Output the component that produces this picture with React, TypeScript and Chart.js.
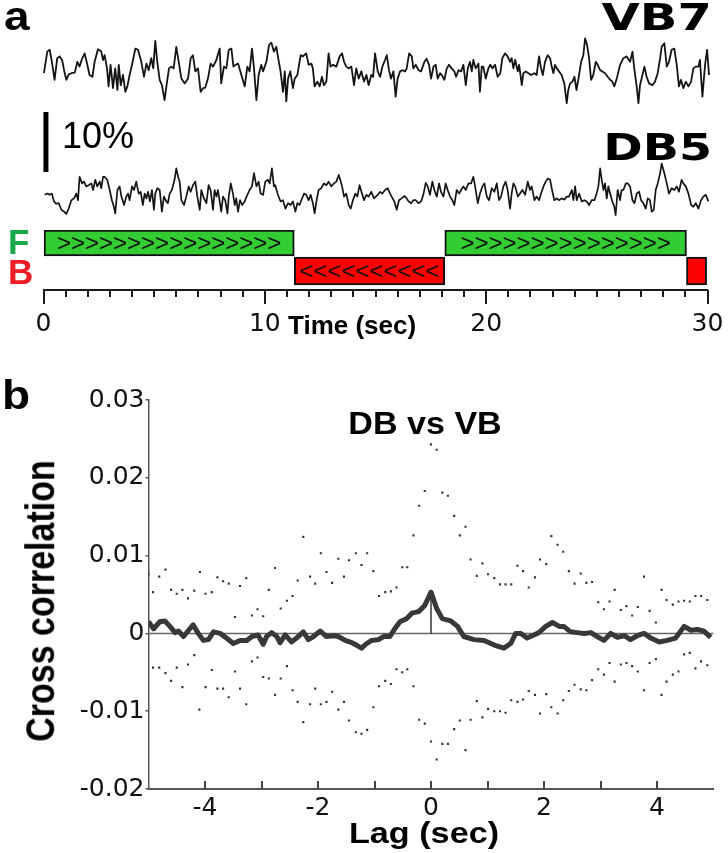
import React, { useEffect, useRef } from "react";
import { Chart, registerables } from "chart.js";
Chart.register(...registerables);

// ---------- Panel a: calcium traces (time in s, dF/F in %) ----------
const VB7_T = [0.02,0.17,0.28,0.38,0.5,0.62,0.73,0.84,0.93,1.03,1.14,1.26,1.41,1.53,1.63,1.74,1.86,1.98,2.08,2.21,2.31,2.46,2.61,2.69,2.76,2.87,2.94,3.03,3.14,3.24,3.34,3.4,3.49,3.59,3.7,3.79,3.89,4.0,4.15,4.27,4.42,4.54,4.65,4.75,4.87,4.96,5.05,5.14,5.25,5.35,5.47,5.56,5.67,5.77,5.88,6.0,6.11,6.23,6.38,6.53,6.65,6.75,6.86,6.98,7.1,7.21,7.31,7.43,7.55,7.66,7.81,7.96,8.03,8.15,8.26,8.37,8.49,8.58,8.68,8.79,8.94,9.09,9.21,9.31,9.42,9.51,9.62,9.72,9.84,9.92,10.07,10.19,10.29,10.41,10.52,10.59,10.71,10.82,10.9,10.97,11.05,11.15,11.27,11.35,11.47,11.62,11.72,11.87,11.98,12.1,12.17,12.25,12.37,12.48,12.58,12.67,12.78,12.88,12.97,13.08,13.23,13.38,13.49,13.58,13.68,13.79,13.91,14.03,14.13,14.24,14.36,14.48,14.59,14.69,14.81,14.89,14.98,15.1,15.21,15.31,15.43,15.51,15.61,15.7,15.81,15.91,16.0,16.11,16.21,16.34,16.41,16.52,16.64,16.71,16.82,16.94,17.06,17.21,17.31,17.42,17.51,17.62,17.72,17.81,17.92,17.99,18.11,18.22,18.32,18.44,18.56,18.64,18.75,18.87,18.97,19.08,19.17,19.27,19.35,19.42,19.53,19.65,19.72,19.8,19.87,19.98,20.1,20.19,20.28,20.4,20.52,20.64,20.73,20.85,20.97,21.08,21.15,21.23,21.31,21.43,21.49,21.61,21.68,21.79,21.91,22.03,22.18,22.28,22.39,22.48,22.56,22.66,22.78,22.89,22.96,23.04,23.11,23.19,23.29,23.41,23.53,23.64,23.71,23.79,23.9,23.99,24.08,24.17,24.29,24.39,24.47,24.56,24.65,24.74,24.84,24.95,25.04,25.15,25.25,25.37,25.49,25.6,25.7,25.79,25.9,26.05,26.2,26.35,26.5,26.61,26.7,26.8,26.88,26.95,27.06,27.15,27.25,27.36,27.51,27.63,27.75,27.86,27.93,28.05,28.16,28.26,28.38,28.5,28.61,28.71,28.8,28.91,29.02,29.14,29.26,29.36,29.47,29.59,29.66,29.77,29.89,29.98,30.07,30.16];
const VB7_V = [0.3,3.9,4.2,2.2,-0.8,2.8,3.1,2.5,0.8,-0.8,0.1,0.3,0.4,2.2,1.4,2.7,3.6,1.7,0,-0.3,2.2,4.3,3.9,2.5,3.3,1.1,-1.9,1.7,-2.2,1.1,-2.5,1.7,-1.7,0,-2.8,-1.9,0,1.7,4.4,4.2,2.2,-0.3,1.9,0.8,2.8,1.1,5.7,2.2,-0.8,-1.7,-4.2,-1.7,1.1,1.4,1.1,4.7,2.2,-0.6,-1.4,-0.6,2.8,3.3,0.6,1.1,-2.8,-2.2,-2.1,-0.6,1.9,1.4,2.5,4.4,-1.4,1.4,1.1,4.2,4.4,1.4,1.7,1.9,0,-1.9,1.4,0.6,4.4,1.1,-4.2,0,1.7,0.6,2.2,5.0,5.4,3.9,4.7,3.1,0.6,-2.8,0.6,-4.4,-0.6,0.6,-2.2,-0.6,0,3.3,3.1,3.6,1.7,1.9,1.1,-1.9,-1.1,-1.9,-0.3,-1.7,-1.1,3.6,1.4,1.7,1.4,3.1,3.6,2.2,1.4,1.1,1.4,-1.7,1.1,-0.6,0.6,-1.1,0,-1.7,0,-0.3,3.6,0.6,-0.3,1.4,2.5,3.3,0.8,-0.6,0.6,-3.6,-0.6,0.6,0.8,0.6,1.1,3.6,3.1,1.1,1.7,0.8,0.6,2.2,2.7,1.7,-0.6,1.4,1.7,-0.6,0.3,0,-0.8,1.1,1.7,1.1,0.6,-0.3,0.8,0.6,1.7,-1.7,1.1,2.2,0.6,2.5,1.1,1.9,-2.8,1.4,1.4,-0.6,1.1,1.7,1.1,1.7,-0.3,0.3,2.8,3.6,3.1,2.2,2.8,1.1,2.5,0.6,1.7,-1.7,0.3,0.6,0.3,0,0.3,0,3.1,1.1,0,2.2,3.3,2.8,1.4,0.3,1.7,1.1,0.6,0,-1.4,-4.7,-2.5,-1.4,-1.1,-0.3,-2.5,-0.6,2.2,3.3,6.1,5.0,2.8,-0.8,0,2.2,1.7,0.8,0.6,0.3,-0.3,-0.8,-1.1,-1.9,-0.6,1.7,2.8,3.1,2.2,3.9,0.8,-1.9,-4.7,-1.7,0,1.4,-0.3,-1.4,-1.7,-1.1,0.3,2.8,4.7,5.3,1.4,2.2,4.2,4.4,1.7,-1.9,-0.8,-2.2,-1.1,-1.9,-1.1,1.1,1.4,1.4,2.5,-3.6,1.7,4.2,0,2.5];

const DB5_T = [0.05,0.17,0.28,0.38,0.47,0.58,0.69,0.81,0.93,1.03,1.14,1.26,1.38,1.48,1.56,1.63,1.74,1.83,1.93,2.04,2.16,2.24,2.34,2.43,2.54,2.61,2.69,2.76,2.88,2.99,3.09,3.18,3.24,3.34,3.44,3.52,3.64,3.74,3.82,3.89,4.0,4.09,4.19,4.3,4.39,4.49,4.57,4.65,4.72,4.81,4.9,4.99,5.05,5.14,5.25,5.35,5.44,5.55,5.62,5.7,5.8,5.92,6.0,6.08,6.15,6.23,6.35,6.45,6.56,6.65,6.75,6.86,6.95,7.06,7.13,7.25,7.36,7.46,7.55,7.66,7.73,7.81,7.88,7.96,8.03,8.11,8.21,8.31,8.37,8.46,8.56,8.64,8.71,8.79,8.88,8.97,9.09,9.21,9.31,9.42,9.51,9.62,9.72,9.81,9.92,10.02,10.14,10.22,10.32,10.41,10.47,10.59,10.71,10.82,10.93,11.05,11.17,11.27,11.38,11.47,11.57,11.65,11.77,11.87,11.98,12.07,12.17,12.25,12.34,12.43,12.55,12.67,12.78,12.88,13.0,13.12,13.23,13.34,13.43,13.49,13.58,13.68,13.79,13.88,13.98,14.09,14.18,14.28,14.39,14.48,14.59,14.69,14.81,14.93,15.1,15.21,15.31,15.43,15.55,15.66,15.73,15.85,15.96,16.06,16.18,16.31,16.41,16.49,16.61,16.71,16.82,16.94,17.06,17.16,17.27,17.36,17.46,17.57,17.66,17.77,17.87,17.96,18.07,18.17,18.26,18.37,18.47,18.56,18.67,18.78,18.87,18.97,19.08,19.2,19.32,19.42,19.5,19.62,19.72,19.83,19.92,20.03,20.13,20.25,20.37,20.48,20.58,20.67,20.78,20.88,20.97,21.08,21.15,21.23,21.31,21.43,21.53,21.64,21.76,21.88,21.98,22.06,22.18,22.28,22.39,22.48,22.59,22.69,22.78,22.89,22.96,23.08,23.19,23.29,23.41,23.53,23.64,23.74,23.87,23.94,24.02,24.09,24.2,24.32,24.44,24.54,24.65,24.77,24.89,24.99,25.07,25.15,25.22,25.3,25.37,25.45,25.52,25.6,25.7,25.79,25.85,25.94,26.05,26.12,26.2,26.31,26.4,26.5,26.61,26.7,26.8,26.91,27.0,27.1,27.21,27.3,27.4,27.48,27.57,27.66,27.75,27.86,27.93,28.05,28.16,28.26,28.38,28.5,28.61,28.71,28.83,28.91,29.02,29.14,29.26,29.36,29.47,29.59,29.71,29.81,29.92,30.04,30.16];
const DB5_V = [-0.8,-0.6,-0.8,-0.6,-1.9,-2.3,-2.2,-3.3,-3.6,-4.0,-3.1,-1.7,-1.4,-0.6,-1.7,2.2,1.1,1.4,0.6,0.8,1.1,0,1.7,0.6,1.4,0.3,2.2,2.2,1.7,0,-1.7,-2.8,-3.9,0,0.6,-1.1,-2.5,-1.1,-0.6,-1.7,0.6,0,1.4,-0.6,-0.3,-2.5,-0.6,-1.4,-0.3,-1.9,0,-3.3,-0.6,0.3,0,-3.6,-1.1,-1.9,-2.2,-0.6,0,1.7,3.6,2.2,1.4,-1.7,-2.5,-1.1,0.6,-0.3,0.8,1.4,-1.1,-3.3,0,-1.4,-2.2,0.8,0,-3.3,0,-1.1,0,-1.9,-3.6,-1.1,-1.7,-3.9,-1.1,1.1,-0.6,-2.5,-1.4,-3.6,-1.7,-2.5,-1.9,-0.8,0,0.6,2.8,0.6,1.4,-0.6,-0.8,1.4,1.7,1.1,3.6,0.6,0.8,-0.8,-1.9,-1.7,-3.1,-2.2,-2.5,-1.9,-3.6,-2.2,-2.5,-1.7,-0.6,-0.8,-1.7,-0.8,-2.2,-3.9,-1.7,0,0.3,1.1,0.8,1.4,0.6,1.1,1.4,2.5,1.4,0.6,-1.1,-0.6,-2.5,-3.1,-1.7,-0.6,-1.1,0.8,-0.6,-1.7,-0.8,-1.1,-0.3,-1.4,-0.8,-0.3,-0.6,0,0.3,-0.6,-1.1,-1.9,-3.3,-1.7,-1.4,-1.0,-1.4,-1.9,-2.2,-1.7,-1.7,-2.2,-1.9,-0.8,1.2,0.6,-0.8,1.4,0,-1.1,1.1,-0.3,-1.1,1.1,0,-1.1,-1.7,-2.5,0,-0.6,0,0.6,0,1.1,1.1,2.2,0.6,-2.2,-0.6,0.6,1.1,-1.1,-1.7,0.3,-0.3,1.1,-1.7,-1.1,0.6,1.4,0,-3.1,-0.6,1.1,0.6,-1.1,-0.6,0,-0.8,1.4,0,0.6,-1.7,-1.1,-1.7,-0.6,0.6,1.4,1.9,1.7,0.3,-1.7,-1.4,-1.7,-1.4,-1.6,-1.1,-1.1,0,-1.7,0.6,-1.7,-0.6,-1.9,-1.7,-1.9,-2.5,-1.7,-1.7,-0.6,0.6,3.6,1.7,0,1.1,-1.4,0.6,-0.6,-1.9,-2.8,-4.2,0,-1.7,0,0,1.1,1.1,0.6,-1.7,-2.2,-0.6,-0.3,-1.7,-2.2,-3.1,-1.4,-1.7,-3.6,-3.3,0,1.1,2.8,4.4,2.8,1.1,-0.6,0.3,0,0.6,-0.3,1.7,1.1,0.6,-0.6,-2.5,-2.8,-2.2,-3.1,-1.7,-1.1,-0.8,-1.9,-3.3];

const SCALE_BAR_PCT = 10;
const F_SEGMENTS = [[0, 11.33], [18.13, 29.05]];
const B_SEGMENTS = [[11.33, 18.13], [29.05, 29.96]];
const F_ARROWS = [">>>>>>>>>>>>>>>>", ">>>>>>>>>>>>>>>"];
const B_ARROWS = ["<<<<<<<<<<", ""];
const TIME_LABELS = [0, 10, 20, 30];

// ---------- Panel b: cross correlation ----------
const LAG = [-5,-4.91,-4.8,-4.71,-4.62,-4.53,-4.47,-4.38,-4.29,-4.21,-4.12,-4.03,-3.94,-3.85,-3.73,-3.62,-3.5,-3.38,-3.26,-3.17,-3.06,-2.97,-2.91,-2.82,-2.73,-2.67,-2.58,-2.47,-2.38,-2.26,-2.17,-2.08,-1.96,-1.85,-1.73,-1.64,-1.52,-1.4,-1.32,-1.23,-1.14,-1.05,-0.93,-0.84,-0.73,-0.64,-0.55,-0.43,-0.34,-0.22,-0.11,0,0.1,0.2,0.35,0.47,0.58,0.76,0.94,1.12,1.29,1.41,1.5,1.59,1.7,1.82,1.91,2.03,2.15,2.27,2.35,2.47,2.59,2.71,2.83,2.94,3.06,3.18,3.3,3.42,3.53,3.65,3.77,3.89,4.04,4.18,4.33,4.48,4.6,4.72,4.83,4.95];
const XCORR = [0.0015,0.0006,0.0015,0.0016,0.0009,0.0001,0.0003,-0.0004,0.0004,0.0011,0,-0.0009,-0.0008,0.0002,0,-0.0006,-0.0013,-0.0009,-0.0009,-0.0004,-0.0002,-0.0014,-0.0004,0.0001,-0.0004,-0.0012,-0.0002,-0.0011,-0.0006,0.0002,-0.0008,-0.0004,0.0003,-0.0004,-0.0003,-0.0004,-0.0009,-0.0012,-0.0015,-0.0019,-0.0013,-0.0009,-0.0008,-0.0004,-0.0004,0.0006,0.0015,0.0019,0.0026,0.0028,0.0036,0.0053,0.0032,0.0019,0.0016,0.0009,-0.0004,-0.0008,-0.0009,-0.0015,-0.0019,-0.0013,0,0,-0.0006,-0.0002,0.0001,0.0009,0.0014,0.0009,0.0009,0.0002,0.0001,0,0.0001,-0.0004,-0.0009,0,-0.0005,-0.0003,-0.0008,-0.0003,0,-0.0006,-0.0011,-0.0009,-0.0006,0.0009,0.0004,0.0005,0.0003,-0.0005];
const PEAK_LAG = 0;
const PEAK_VAL = 0.0053;

const UPPER_LAG = [-5,-4.92,-4.81,-4.7,-4.6,-4.5,-4.4,-4.3,-4.19,-4.09,-3.99,-3.88,-3.78,-3.68,-3.58,-3.47,-3.38,-3.27,-3.17,-3.07,-2.97,-2.87,-2.76,-2.66,-2.55,-2.45,-2.36,-2.26,-2.14,-2.05,-1.95,-1.85,-1.75,-1.64,-1.54,-1.45,-1.33,-1.23,-1.13,-1.02,-0.92,-0.81,-0.71,-0.61,-0.51,-0.42,-0.31,-0.21,-0.11,0,0.1,0.2,0.3,0.41,0.51,0.61,0.7,0.81,0.91,1.01,1.12,1.22,1.32,1.42,1.53,1.63,1.73,1.84,1.93,2.04,2.13,2.24,2.34,2.44,2.54,2.65,2.75,2.85,2.96,3.06,3.16,3.25,3.36,3.46,3.56,3.66,3.77,3.87,3.98,4.08,4.17,4.28,4.38,4.48,4.58,4.68,4.78,4.89];
const UPPER_VAL = [0.0076,0.0053,0.0073,0.0082,0.0056,0.0051,0.0056,0.0045,0.0055,0.0079,0.0051,0.0053,0.0072,0.0067,0.0064,0.0021,0.0061,0.0071,0.0023,0.0031,0.0022,0.0056,0.0084,0.0032,0.0042,0.0048,0.0068,0.0124,0.0073,0.0064,0.0103,0.0079,0.0065,0.0096,0.0073,0.0094,0.0103,0.0088,0.0103,0.008,0.0048,0.0053,0.0054,0.0059,0.0085,0.0085,0.0126,0.0164,0.0183,0.0243,0.0236,0.0181,0.0177,0.0151,0.0126,0.0137,0.0095,0.0074,0.009,0.0076,0.0071,0.0063,0.0063,0.0063,0.0087,0.008,0.0059,0.0072,0.0095,0.0089,0.0125,0.0114,0.0105,0.008,0.0064,0.0077,0.0065,0.0066,0.004,0.0031,0.0041,0.0056,0.003,0.0035,0.0023,0.0034,0.0073,0.0029,0.0014,0.0056,0.0043,0.0037,0.0041,0.0042,0.0041,0.0048,0.0048,0.0043];
const LOWER_LAG = [-4.92,-4.81,-4.7,-4.6,-4.5,-4.4,-4.3,-4.19,-4.1,-3.99,-3.88,-3.78,-3.68,-3.58,-3.47,-3.38,-3.27,-3.17,-3.07,-2.97,-2.87,-2.76,-2.66,-2.55,-2.45,-2.36,-2.26,-2.14,-2.05,-1.95,-1.85,-1.75,-1.64,-1.54,-1.45,-1.33,-1.23,-1.13,-1.02,-0.92,-0.81,-0.71,-0.61,-0.51,-0.42,-0.31,-0.21,-0.11,0,0.1,0.2,0.3,0.41,0.51,0.61,0.7,0.81,0.91,1.01,1.12,1.22,1.32,1.42,1.53,1.63,1.73,1.84,1.93,2.04,2.13,2.24,2.34,2.44,2.54,2.65,2.75,2.85,2.96,3.06,3.16,3.25,3.36,3.46,3.56,3.66,3.77,3.87,3.98,4.08,4.17,4.28,4.38,4.48,4.58,4.68,4.78,4.89];
const LOWER_VAL = [-0.0044,-0.0044,-0.0051,-0.0061,-0.0044,-0.0069,-0.004,-0.0028,-0.0098,-0.0069,-0.0047,-0.0071,-0.0071,-0.0082,-0.0049,-0.0071,-0.0091,-0.0036,-0.0031,-0.0056,-0.0058,-0.0079,-0.0058,-0.0042,-0.0073,-0.0088,-0.0114,-0.0091,-0.0071,-0.0091,-0.0088,-0.0075,-0.0098,-0.0088,-0.0112,-0.0127,-0.0129,-0.0124,-0.0095,-0.0068,-0.0061,-0.0065,-0.0046,-0.005,-0.0046,-0.0068,-0.0111,-0.0116,-0.0139,-0.0162,-0.0142,-0.0142,-0.0123,-0.0112,-0.015,-0.0111,-0.0087,-0.0108,-0.0097,-0.01,-0.01,-0.0102,-0.0086,-0.0088,-0.0085,-0.0074,-0.0079,-0.0103,-0.0078,-0.0095,-0.0103,-0.0086,-0.0074,-0.0066,-0.0072,-0.0073,-0.006,-0.0046,-0.0053,-0.0038,-0.0062,-0.004,-0.0038,-0.0042,-0.0049,-0.0073,-0.0038,-0.0033,-0.0079,-0.0062,-0.0053,-0.0049,-0.0027,-0.0025,-0.0045,-0.0036,-0.0041];
const LAG_LABELS = [-4, -2, 0, 2, 4];

// ---------- layout (pixels / offsets) ----------
const W = 728;
const VB7_BASE = 25.833;
const DB5_BASE = 6.667;
const SCALE_BAR_T = 0.11;
const SCALE_BAR_BASE = 9.67;
const F_ROW = 0.5;
const B_ROW = 1.57;

const pts = (xs: number[], ys: number[], off = 0) => xs.map((x, i) => ({ x, y: ys[i] + off }));

const txt = (extra: React.CSSProperties): React.CSSProperties => ({
  position: "absolute",
  lineHeight: 1,
  whiteSpace: "nowrap",
  fontFamily: "'Liberation Sans', Arial, sans-serif",
  color: "#000",
  ...extra,
});

export default function App() {
  const refA = useRef<HTMLCanvasElement>(null);
  const refB = useRef<HTMLCanvasElement>(null);
  const refC = useRef<HTMLCanvasElement>(null);

  useEffect(() => {
    const charts: Chart[] = [];
    const common: any = {
      animation: false,
      responsive: false,
      maintainAspectRatio: false,
      events: [],
      plugins: { legend: { display: false }, tooltip: { enabled: false }, title: { display: false } },
    };

    // Traces
    charts.push(
      new Chart(refA.current!, {
        type: "scatter",
        data: {
          datasets: [
            { data: pts(VB7_T, VB7_V, VB7_BASE), showLine: true, borderColor: "#141414", borderWidth: 1.8, pointRadius: 0, clip: false, borderJoinStyle: "round" } as any,
            { data: pts(DB5_T, DB5_V, DB5_BASE), showLine: true, borderColor: "#141414", borderWidth: 1.7, pointRadius: 0, clip: false, borderJoinStyle: "round" } as any,
            {
              data: [{ x: SCALE_BAR_T, y: SCALE_BAR_BASE }, { x: SCALE_BAR_T, y: SCALE_BAR_BASE + SCALE_BAR_PCT }],
              showLine: true, borderColor: "#000", borderWidth: 5, pointRadius: 0, clip: false, borderCapStyle: "butt",
            } as any,
          ],
        },
        options: {
          ...common,
          layout: { padding: { left: 43.5, right: 20.5, top: 0, bottom: 0 } },
          scales: {
            x: { type: "linear", min: 0, max: 30, display: false },
            y: { type: "linear", min: 0, max: 33.333, display: false },
          },
        },
      })
    );

    // Forward/backward bars + time axis
    const arrowPlugin = {
      id: "arrows",
      afterDatasetsDraw(chart: any) {
        const ctx = chart.ctx;
        const texts = [F_ARROWS, B_ARROWS];
        ctx.save();
        ctx.fillStyle = "#111";
        ctx.font = "24px 'Liberation Sans', Arial, sans-serif";
        ctx.textAlign = "center";
        ctx.textBaseline = "middle";
        chart.data.datasets.forEach((_: any, di: number) => {
          chart.getDatasetMeta(di).data.forEach((el: any, i: number) => {
            const t = texts[di][i];
            if (t) ctx.fillText(t, (el.x + el.base) / 2, el.y + 1);
          });
        });
        ctx.restore();
      },
      afterDraw(chart: any) {
        const ctx = chart.ctx;
        const xs = chart.scales.x;
        const y0 = chart.chartArea.bottom;
        ctx.save();
        ctx.strokeStyle = "#1a1a1a";
        ctx.lineWidth = 2;
        for (let v = xs.min; v <= xs.max; v += 1) {
          const px = Math.round(xs.getPixelForValue(v));
          const len = TIME_LABELS.includes(v) ? 14 : 7;
          ctx.beginPath();
          ctx.moveTo(px, y0);
          ctx.lineTo(px, y0 + len);
          ctx.stroke();
        }
        ctx.restore();
      },
    };
    charts.push(
      new Chart(refB.current!, {
        type: "bar",
        data: {
          datasets: [
            {
              label: "F",
              data: F_SEGMENTS.map((s) => ({ y: F_ROW, x: s })),
              backgroundColor: "#33cc33", borderColor: "#111", borderWidth: 2, borderSkipped: false,
              barThickness: 26, grouped: false,
            } as any,
            {
              label: "B",
              data: B_SEGMENTS.map((s) => ({ y: B_ROW, x: s })),
              backgroundColor: "#ff0000", borderColor: "#111", borderWidth: 2, borderSkipped: false,
              barThickness: 28, grouped: false,
            } as any,
          ],
        },
        options: {
          ...common,
          indexAxis: "y",
          layout: { padding: { left: 43.5, right: 20.5, top: 10, bottom: 0 } },
          scales: {
            x: {
              type: "linear", min: 0, max: 30, position: "bottom",
              grid: { display: true, drawOnChartArea: false, drawTicks: true, tickLength: 16, tickColor: "rgba(0,0,0,0)" },
              border: { display: true, color: "#1a1a1a", width: 2 },
              ticks: {
                stepSize: 1, autoSkip: false, maxRotation: 0, minRotation: 0, padding: 3, color: "#111",
                font: { family: "'DejaVu Sans'", size: 25 },
                callback: (v: any) => (TIME_LABELS.includes(Number(v)) ? String(v) : ""),
              },
              afterFit: (s: any) => { s.height = 50; },
            },
            y: { type: "linear", min: 0, max: 2.3, reverse: true, display: false, offset: false },
          },
        } as any,
        plugins: [arrowPlugin],
      })
    );

    // Cross correlation
    const innerTicks = {
      id: "innerTicks",
      afterDraw(chart: any) {
        const ctx = chart.ctx;
        const xs = chart.scales.x;
        const y0 = chart.chartArea.bottom;
        ctx.save();
        ctx.strokeStyle = "#444";
        ctx.lineWidth = 2;
        for (let v = xs.min + 1; v < xs.max; v += 1) {
          const px = Math.round(xs.getPixelForValue(v));
          ctx.beginPath();
          ctx.moveTo(px, y0);
          ctx.lineTo(px, y0 - 8);
          ctx.stroke();
        }
        ctx.restore();
      },
    };
    charts.push(
      new Chart(refC.current!, {
        type: "scatter",
        data: {
          datasets: [
            { data: pts(LAG, XCORR), showLine: true, borderColor: "#383838", borderWidth: 5, pointRadius: 0, order: 0, borderJoinStyle: "round" } as any,
            { data: [{ x: PEAK_LAG, y: 0 }, { x: PEAK_LAG, y: PEAK_VAL }], showLine: true, borderColor: "#333", borderWidth: 1.5, pointRadius: 0, order: 1 } as any,
            { data: [{ x: -5, y: 0 }, { x: 5, y: 0 }], showLine: true, borderColor: "#666", borderWidth: 1.5, pointRadius: 0, order: 2 } as any,
            { data: pts(UPPER_LAG, UPPER_VAL), pointStyle: "rect", pointRadius: 1.5, backgroundColor: "#333", borderWidth: 0, order: 3 } as any,
            { data: pts(LOWER_LAG, LOWER_VAL), pointStyle: "rect", pointRadius: 1.5, backgroundColor: "#333", borderWidth: 0, order: 3 } as any,
          ],
        },
        options: {
          ...common,
          layout: { padding: { left: 0, right: 14.5, top: 20, bottom: 30 } },
          scales: {
            x: {
              type: "linear", min: -5, max: 5,
              grid: { display: false, drawTicks: false },
              border: { display: true, color: "#555", width: 2 },
              ticks: {
                stepSize: 1, autoSkip: false, maxRotation: 0, padding: 4, color: "#111",
                font: { family: "'DejaVu Sans'", size: 25 },
                callback: (v: any) => (LAG_LABELS.includes(Number(v)) ? String(v) : ""),
              },
              afterFit: (s: any) => { s.height = 34; },
            },
            y: {
              type: "linear", min: -0.02, max: 0.03,
              grid: { drawOnChartArea: false, drawTicks: true, tickLength: 3, color: "#555", lineWidth: 1.5 },
              border: { display: true, color: "#555", width: 1.5 },
              ticks: {
                stepSize: 0.01, padding: 1, color: "#111",
                font: { family: "'DejaVu Sans'", size: 25 },
                callback: (v: any) => { const r = Math.round(Number(v) * 100) / 100; return r === 0 ? "0" : r.toFixed(2); },
              },
              afterFit: (s: any) => { s.width = 148.5; },
            },
          },
        } as any,
        plugins: [innerTicks],
      })
    );

    return () => charts.forEach((c) => c.destroy());
  }, []);

  return (
    <div style={{ position: "absolute", left: 0, top: 0, width: W, height: 853, background: "#fff", overflow: "hidden" }}>
      <canvas ref={refA} width={W} height={200} style={{ position: "absolute", left: 0, top: 30 }} />
      <canvas ref={refB} width={W} height={120} style={{ position: "absolute", left: 0, top: 220 }} />
      <canvas ref={refC} width={W} height={473} style={{ position: "absolute", left: 0, top: 380 }} />

      <div style={txt({ left: 4, top: -4, fontSize: 40, fontWeight: 700, transform: "scaleX(1.15)", transformOrigin: "left" })}>a</div>
      <div style={txt({ right: 16, top: -2, fontSize: 38, fontWeight: 700, fontFamily: "'DejaVu Sans'", transform: "scaleX(1.3)", transformOrigin: "right" })}>VB7</div>
      <div style={txt({ left: 62, top: 118, fontSize: 36, transform: "scaleX(1.0)", transformOrigin: "left" })}>10%</div>
      <div style={txt({ right: 16, top: 128, fontSize: 38, fontWeight: 700, fontFamily: "'DejaVu Sans'", transform: "scaleX(1.25)", transformOrigin: "right" })}>DB5</div>
      <div style={txt({ left: 8, top: 224, fontSize: 35, fontWeight: 700, color: "#1aa84a" })}>F</div>
      <div style={txt({ left: 8, top: 254, fontSize: 35, fontWeight: 700, color: "#ee1c24" })}>B</div>
      <div style={txt({ left: 288, top: 312, fontSize: 26, fontWeight: 700 })}>Time (sec)</div>

      <div style={txt({ left: 2, top: 375, fontSize: 40, fontWeight: 700, transform: "scaleX(1.15)", transformOrigin: "left" })}>b</div>
      <div style={txt({ left: 425, top: 408, fontSize: 31, fontWeight: 700, transform: "translateX(-50%) scaleX(1.1)" })}>DB vs VB</div>
      <div style={txt({ left: 40, top: 601, fontSize: 34, fontWeight: 700, transform: "translate(-50%, -50%) rotate(-90deg) scaleY(1.2)" })}>Cross correlation</div>
      <div style={txt({ left: 424, top: 818, fontSize: 30, fontWeight: 700, transform: "translateX(-50%) scaleX(1.14)" })}>Lag (sec)</div>
    </div>
  );
}
